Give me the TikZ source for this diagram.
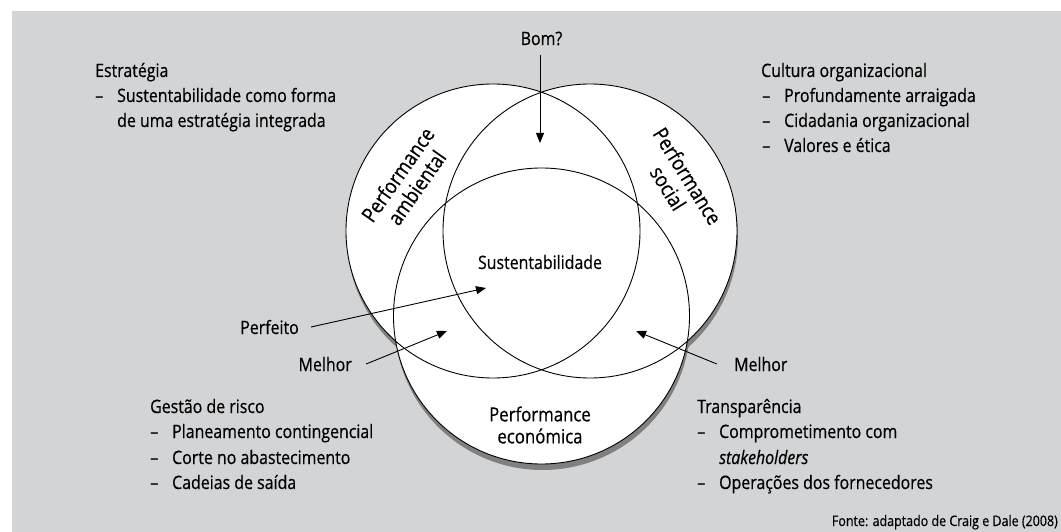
\documentclass[tikz,border=0pt]{standalone}
\usepackage{fontspec}
\setmainfont{Open Sans}[FakeStretch=0.86, FakeBold=0.5]
\usetikzlibrary{arrows.meta, positioning}
\definecolor{panelgray}{HTML}{D3D4D6}
\definecolor{shadowgray}{HTML}{808080}

\newcommand{\venntext}{\fontsize{18.5}{25}\selectfont}
\newcommand{\vennitem}{\makebox[22pt][l]{–}}

\tikzset{
  txt/.style={font=\venntext, inner sep=0pt, anchor=base west},
  ring/.style={draw=black, line width=0.9pt},
  pointer/.style={line width=0.9pt, -{Triangle[length=10pt, width=8pt]}}
}

\begin{document}
\begin{tikzpicture}[x=1pt, y=-1pt]
\useasboundingbox (0,0) rectangle (1061,532);
% Background
\fill[white] (0,0) rectangle (1061,532);
\fill[panelgray] (12,11) rectangle (1061,532);

% Circles
\coordinate (amb) at (493,231);
\coordinate (soc) at (590,231);
\coordinate (eco) at (541.5,316);
\fill[shadowgray] ([shift={(1,6)}]amb) circle (147pt) ([shift={(1,6)}]soc) circle (147pt) ([shift={(1,6)}]eco) circle (148pt);
\fill[white] (amb) circle (147pt) (soc) circle (147pt) (eco) circle (148pt);
\draw[ring] (amb) circle (147pt) (soc) circle (147pt) (eco) circle (148pt);

% Circle labels
\node[font=\fontsize{21}{23}\selectfont, align=center, inner sep=0pt, rotate=55] (ambtxt) at (407,181) {Performance\\ambiental};
\node[font=\fontsize{21}{23}\selectfont, align=center, inner sep=0pt, rotate=-58] (soctxt) at (678,182) {Performance\\social};
\node[font=\fontsize{19.5}{22}\selectfont, align=center, inner sep=0pt] (ecotxt) at (540,425) {Performance\\económica};
\node[txt, anchor=base] (sust) at (540,269) {Sustentabilidade};

% Arrows
\node[txt, anchor=base] (bom) at (541.5,45) {Bom?};
\node[txt, anchor=base east] (perfeito) at (299,334) {Perfeito};
\node[txt, anchor=base east] (melhorl) at (352,371) {Melhor};
\node[txt] (melhorr) at (734,371) {Melhor};
\coordinate (bomtip) at (540,143);
\coordinate (perfeitotip) at (486,288);
\coordinate (melhorltip) at (447,331);
\coordinate (melhorrtip) at (636,331);
\draw[pointer, shorten <=10pt] (bom.south -| bomtip) -- (bomtip);
\draw[pointer] ([xshift=12pt]perfeito.east) -- (perfeitotip);
\draw[pointer] ([xshift=14pt]melhorl.east) -- (melhorltip);
\draw[pointer] ([xshift=-17pt]melhorr.west) -- (melhorrtip);

% Text
\node[txt] (estrategia) at (95,77) {Estratégia};
\node[txt] (estrategia1) at (95,102) {\vennitem Sustentabilidade como forma};
\node[txt] (estrategia2) at (117,127) {de uma estratégia integrada};

\node[txt] (cultura) at (761,77) {Cultura organizacional};
\node[txt] (cultura1) at (762,102) {\vennitem Profundamente arraigada};
\node[txt] (cultura2) at (762,127) {\vennitem Cidadania organizacional};
\node[txt] (cultura3) at (762,152) {\vennitem Valores e ética};

\node[txt] (risco) at (150,413) {Gestão de risco};
\node[txt] (risco1) at (150,438) {\vennitem Planeamento contingencial};
\node[txt] (risco2) at (150,464) {\vennitem Corte no abastecimento};
\node[txt] (risco3) at (150,489) {\vennitem Cadeias de saída};

\node[txt] (transp) at (697,413) {Transparência};
\node[txt] (transp1) at (697,438) {\vennitem Comprometimento com};
\node[txt] (transp2) at (719,464) {\textit{stakeholders}};
\node[txt] (transp3) at (697,489) {\vennitem Operações dos fornecedores};

\node[font=\fontsize{14.5}{16}\selectfont, inner sep=0pt, anchor=base east] (fonte) at (1058,526) {Fonte: adaptado de Craig e Dale (2008)};
\end{tikzpicture}
\end{document}
